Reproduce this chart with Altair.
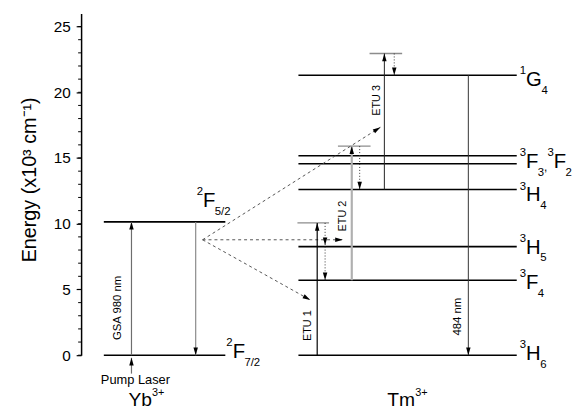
import math
import altair as alt
import pandas as pd

# ---------------- data (energies in 10^3 cm^-1) ----------------
yb_levels = ["2F7/2", "2F5/2"]
yb_energy = [0.0, 10.14]
tm_levels = ["3H6", "3F4", "3H5", "3H4", "3F2", "3F3", "1G4"]
tm_energy = [0.0, 5.70, 8.26, 12.60, 14.56, 15.17, 21.30]
etu_names = ["ETU 1", "ETU 2", "ETU 3"]
etu_start_energy = [0.0, 5.70, 12.60]
etu_virtual_energy = [10.06, 15.90, 22.95]
etu_label_energy = [2.25, 10.59, 19.38]
transfer_origin_energy = 8.78
transfer_tip_energy = [17.34, 8.78, 4.20]
pump_energy = [-1.40, -0.20]
emission_energy = [21.30, 0.0]
emission_label = "484 nm"
gsa_label = "GSA 980 nm"
major_ticks = [0, 5, 10, 15, 20, 25]
minor_ticks = list(range(0, 26))

# ---------------- layout (x in px from the axis) ----------------
W, H = 490, 346
E_MAX = 26
PX = H / E_MAX
FONT = "Liberation Sans"
YB_X = (23, 146)
TM_X = (220, 441)
GSA_X, YB_DOWN_X, CONV_X = 51, 116, 123
ETU_X = [239, 274, 307]
RELAX_X = [247, 282, 317]
VIRT_X = [(219, 251), (260, 293), (292, 325)]
TIP_X = [303, 265, 232]
EM_X = 392

segs = []
heads = []


def seg(x1, e1, x2, e2, style, head=False):
    segs.append(dict(x=x1, E=e1, x2=x2, E2=e2, style=style))
    if head:
        dx = x2 - x1
        dy = (e2 - e1) * PX
        ang = math.degrees(math.atan2(dx, dy)) % 360
        heads.append(dict(x=x2, E=e2, angle=ang))


for e in yb_energy:
    seg(YB_X[0], e, YB_X[1], e, "level")
for e in tm_energy:
    seg(TM_X[0], e, TM_X[1], e, "level")
for (a, b), e in zip(VIRT_X, etu_virtual_energy):
    seg(a, e, b, e, "virtual")

# Yb side
seg(GSA_X, yb_energy[0], GSA_X, yb_energy[1], "gsa", True)
seg(GSA_X, pump_energy[0], GSA_X, pump_energy[1], "gsa", True)
seg(YB_DOWN_X, yb_energy[1], YB_DOWN_X, yb_energy[0], "ybdown", True)
for tx, te in zip(TIP_X, transfer_tip_energy):
    seg(CONV_X, transfer_origin_energy, tx, te, "dash", True)

# Tm side
seg(ETU_X[0], etu_start_energy[0], ETU_X[0], etu_virtual_energy[0], "etu1", True)
seg(RELAX_X[0], etu_virtual_energy[0], RELAX_X[0], tm_energy[2] + 0.1, "dot", True)
seg(RELAX_X[0], tm_energy[2], RELAX_X[0], tm_energy[1], "dot", True)
seg(ETU_X[1], etu_start_energy[1], ETU_X[1], etu_virtual_energy[1], "etu2", True)
seg(RELAX_X[1], etu_virtual_energy[1], RELAX_X[1], tm_energy[3], "dot", True)
seg(ETU_X[2], etu_start_energy[2], ETU_X[2], etu_virtual_energy[2], "etu3", True)
seg(RELAX_X[2], etu_virtual_energy[2], RELAX_X[2], tm_energy[6], "dot", True)
seg(EM_X, emission_energy[0], EM_X, emission_energy[1], "em", True)

segs = pd.DataFrame(segs)
heads = pd.DataFrame(heads)

# ---------------- text pieces ----------------
WID = {"F": 0.58, "H": 0.70, "G": 0.76, "/": 0.278, ",": 0.278, "+": 0.584,
       "Y": 0.667, "b": 0.556, "T": 0.611, "m": 0.833}
OFF = {"main": 0, "sup": -12, "sub": 8, "comma": 3, "big": 0, "ion": -10}
SIZE = {"main": 20.5, "sup": 11.5, "sub": 11.5, "comma": 12, "big": 19.5, "ion": 11}


def adv(t, s):
    return sum(WID.get(c, 0.556) for c in t) * s


level_labels = [
    (117, yb_energy[1], -15, [("2", "sup"), ("F", "main"), ("5/2", "sub")]),
    (147, yb_energy[0], 3, [("2", "sup"), ("F", "main"), ("7/2", "sub")]),
    (444, tm_energy[6], 11, [("1", "sup"), ("G", "main"), ("4", "sub")]),
    (444, tm_energy[5], 12, [("3", "sup"), ("F", "main"), ("3", "sub"), (",", "comma"),
                            ("3", "sup"), ("F", "main"), ("2", "sub")]),
    (444, tm_energy[3], 12, [("3", "sup"), ("H", "main"), ("4", "sub")]),
    (444, tm_energy[2], 7, [("3", "sup"), ("H", "main"), ("5", "sub")]),
    (444, tm_energy[1], 9, [("3", "sup"), ("F", "main"), ("4", "sub")]),
    (444, tm_energy[0], 5, [("3", "sup"), ("H", "main"), ("6", "sub")]),
    (48, 0.0, 51, [("Yb", "big"), ("3+", "ion")]),
    (310, 0.0, 51, [("Tm", "big"), ("3+", "ion")]),
]

pieces = []
for x0, e, dy, parts in level_labels:
    x = x0
    for t, role in parts:
        s = SIZE[role]
        pieces.append(dict(x=x, E=e - (dy + OFF[role]) / PX, text=t, size=s))
        x += adv(t, s)
pieces = pd.DataFrame(pieces)

rot = pd.DataFrame(dict(
    x=[37, ETU_X[0] - 9, ETU_X[1] - 9, ETU_X[2] - 7, EM_X - 10],
    E=[3.6] + etu_label_energy + [2.93],
    text=[gsa_label] + etu_names + [emission_label],
    size=[11.5, 11, 11, 11, 11.5],
))

pump_txt = pd.DataFrame(dict(x=[55], E=[-2.2], text=["Pump Laser"]))

# ---------------- chart ----------------
xs = alt.Scale(domain=[0, W])
ys = alt.Scale(domain=[0, E_MAX], nice=False, zero=False)
AX = alt.Axis(
    values=major_ticks, title="Energy (x10³ cm⁻¹)", grid=False,
    domainColor="black", domainWidth=1.5, tickColor="black", tickWidth=1.2,
    tickSize=5, labelFontSize=15.5, labelFont=FONT, labelColor="black",
    labelPadding=6, titleFont=FONT, titleFontSize=20, titleFontWeight="normal",
    titleColor="black", titlePadding=14, titleY=168)


def X():
    return alt.X("x:Q", scale=xs, axis=None)


def Y():
    return alt.Y("E:Q", scale=ys, axis=AX)


STY = {
    "level": dict(color="black", strokeWidth=1.6),
    "virtual": dict(color="#8c8c8c", strokeWidth=1.3),
    "gsa": dict(color="#6e6e6e", strokeWidth=1.2),
    "ybdown": dict(color="#8a8a8a", strokeWidth=1.2),
    "dash": dict(color="#555555", strokeWidth=1, strokeDash=[3, 3]),
    "dot": dict(color="#333333", strokeWidth=1, strokeDash=[1, 2]),
    "etu1": dict(color="black", strokeWidth=1.2),
    "etu2": dict(color="#b0b0b0", strokeWidth=2.2),
    "etu3": dict(color="#222222", strokeWidth=1),
    "em": dict(color="#333333", strokeWidth=1),
}

layers = []
layers.append(alt.Chart(pd.DataFrame({"E": minor_ticks})).mark_rule(
    color="black", strokeWidth=1
).encode(x=alt.value(-3), x2=alt.value(0), y=Y()))

for style, props in STY.items():
    df = segs[segs["style"] == style]
    layers.append(alt.Chart(df).mark_rule(**props).encode(
        x=X(), x2="x2:Q", y=Y(), y2="E2:Q"))

layers.append(alt.Chart(heads).mark_point(
    shape="M0,0L-0.75,2.6L0.75,2.6Z", filled=True, size=36, color="black", opacity=1
).encode(x=X(), y=Y(), angle=alt.Angle("angle:Q", scale=None)))

layers.append(alt.Chart(pieces).mark_text(
    align="left", baseline="alphabetic", font=FONT, color="black"
).encode(x=X(), y=Y(), text="text:N", size=alt.Size("size:Q", scale=None)))

layers.append(alt.Chart(rot).mark_text(
    align="center", baseline="middle", font=FONT, color="black", angle=270
).encode(x=X(), y=Y(), text="text:N", size=alt.Size("size:Q", scale=None)))

layers.append(alt.Chart(pump_txt).mark_text(
    align="center", baseline="alphabetic", font=FONT, color="black", fontSize=13
).encode(x=X(), y=Y(), text="text:N"))

chart = alt.layer(*layers).properties(
    width=W, height=H,
    padding={"left": 74, "top": 3, "right": 12, "bottom": 53},
    autosize=alt.AutoSizeParams(type="none"),
    background="white",
).configure_view(stroke=None)

chart.save("out.html", embed_options={"renderer": "svg", "actions": False})
